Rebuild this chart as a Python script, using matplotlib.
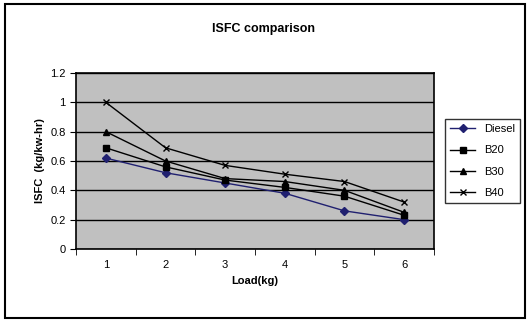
import matplotlib.pyplot as plt
from matplotlib.patches import Rectangle

loads = [1, 2, 3, 4, 5, 6]
diesel = [0.62, 0.52, 0.45, 0.38, 0.26, 0.20]
b20 = [0.69, 0.56, 0.47, 0.42, 0.36, 0.23]
b30 = [0.80, 0.60, 0.48, 0.46, 0.40, 0.25]
b40 = [1.00, 0.69, 0.57, 0.51, 0.46, 0.32]

plt.rcParams['font.family'] = ['Liberation Sans', 'DejaVu Sans']

fig = plt.figure(figsize=(5.28, 3.22), dpi=100)
fig.patches.append(Rectangle((0.01, 0.012), 0.985, 0.975, transform=fig.transFigure,
                             fill=False, edgecolor='black', linewidth=1.5))

ax = fig.add_axes([76 / 528, 1 - 249 / 322, (434 - 76) / 528, (249 - 73) / 322])
ax.set_facecolor('#c0c0c0')

x = list(range(len(loads)))
ax.plot(x, diesel, color='#202070', marker='D', markersize=4, linewidth=1, label='Diesel')
ax.plot(x, b20, color='black', marker='s', markersize=4, linewidth=1, label='B20')
ax.plot(x, b30, color='black', marker='^', markersize=5, linewidth=1, label='B30')
ax.plot(x, b40, color='black', marker='x', markersize=5, linewidth=1, label='B40')

ax.set_xlim(-0.5, 5.5)
ax.set_ylim(0, 1.2)
ax.set_yticks([0, 0.2, 0.4, 0.6, 0.8, 1.0, 1.2])
ax.set_yticklabels(['0', '0.2', '0.4', '0.6', '0.8', '1', '1.2'], fontsize=8)
ax.set_xticks(x)
ax.set_xticklabels([str(v) for v in loads], fontsize=8)
ax.tick_params(axis='x', length=0, pad=8)
ax.set_xticks([i - 0.5 for i in range(len(loads) + 1)], minor=True)
ax.tick_params(axis='x', which='minor', length=4, direction='out')
ax.tick_params(axis='y', length=4)
ax.yaxis.grid(True, color='black', linewidth=1)
ax.set_axisbelow(True)
for s in ax.spines.values():
    s.set_color('black')
    s.set_linewidth(1.2)

ax.set_xlabel('Load(kg)', fontsize=8, fontweight='bold')
ax.set_ylabel('ISFC  (kg/kw-hr)', fontsize=8, fontweight='bold')
fig.text(0.5, 0.9, 'ISFC comparison', ha='center', fontsize=9, fontweight='bold')

leg = ax.legend(loc='center left', bbox_to_anchor=(1.03, 0.5), fontsize=8, frameon=True,
                fancybox=False, edgecolor='black', handlelength=2.2, borderpad=0.5,
                labelspacing=1.0, borderaxespad=0)
leg.get_frame().set_linewidth(1)

fig.savefig('out.png', dpi=100)
